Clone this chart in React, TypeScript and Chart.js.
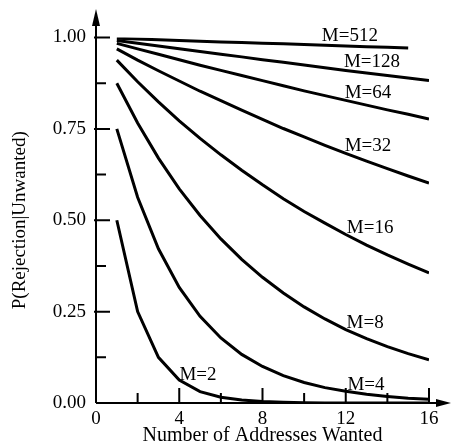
import React, { useEffect, useRef } from "react";
import { Chart, registerables } from "chart.js";

Chart.register(...registerables);

const addresses = [1, 2, 3, 4, 5, 6, 7, 8, 9, 10, 11, 12, 13, 14, 15, 16];

const m2 = [0.5, 0.25, 0.125, 0.063, 0.031, 0.016, 0.008, 0.004, 0.002, 0.001, 0.0, 0.0, 0.0, 0.0, 0.0, 0.0];
const m4 = [0.75, 0.563, 0.422, 0.316, 0.237, 0.178, 0.133, 0.1, 0.075, 0.056, 0.042, 0.032, 0.024, 0.018, 0.013, 0.01];
const m8 = [0.875, 0.766, 0.67, 0.586, 0.513, 0.449, 0.393, 0.344, 0.301, 0.263, 0.23, 0.201, 0.176, 0.154, 0.135, 0.118];
const m16 = [0.938, 0.879, 0.824, 0.772, 0.724, 0.679, 0.637, 0.597, 0.559, 0.524, 0.492, 0.461, 0.432, 0.405, 0.38, 0.356];
const m32 = [0.969, 0.938, 0.909, 0.881, 0.853, 0.827, 0.801, 0.776, 0.751, 0.728, 0.705, 0.683, 0.662, 0.641, 0.621, 0.602];
const m64 = [0.984, 0.969, 0.954, 0.939, 0.924, 0.91, 0.896, 0.882, 0.868, 0.854, 0.841, 0.828, 0.815, 0.802, 0.79, 0.777];
const m128 = [0.992, 0.984, 0.977, 0.969, 0.962, 0.954, 0.947, 0.939, 0.932, 0.925, 0.917, 0.91, 0.903, 0.896, 0.889, 0.882];
const m512 = [0.998, 0.996, 0.994, 0.992, 0.99, 0.988, 0.986, 0.984, 0.983, 0.981, 0.979, 0.977, 0.975, 0.973, 0.971];

const seriesNames = ["M=2", "M=4", "M=8", "M=16", "M=32", "M=64", "M=128", "M=512"];
const seriesValues = [m2, m4, m8, m16, m32, m64, m128, m512];
// label anchor points (data coordinates: addresses, probability)
const labelX = [4.9, 12.97, 12.93, 13.17, 13.07, 13.07, 13.26, 12.2];
const labelY = [0.077, 0.049, 0.219, 0.479, 0.703, 0.848, 0.933, 1.004];

const xMajorTicks = [0, 4, 8, 12, 16];
const xMinorTicks = [2, 6, 10, 14];
const yMajorTicks = [0, 0.25, 0.5, 0.75, 1.0];
const yMinorTicks = [0.125, 0.375, 0.625, 0.875];

const FONT = "'Liberation Serif', 'DejaVu Serif', serif";

const axisPlugin = {
  id: "axisPlugin",
  afterDraw(chart: any) {
    const ctx = chart.ctx;
    const xs = chart.scales.x;
    const ys = chart.scales.y;
    const x0 = xs.getPixelForValue(0);
    const y0 = ys.getPixelForValue(0);
    ctx.save();
    ctx.strokeStyle = "#000";
    ctx.fillStyle = "#000";
    ctx.lineWidth = 2;
    // axes
    ctx.beginPath();
    ctx.moveTo(x0, y0);
    ctx.lineTo(x0, 18);
    ctx.moveTo(x0, y0);
    ctx.lineTo(443, y0);
    ctx.stroke();
    // arrows
    ctx.beginPath();
    ctx.moveTo(x0, 9);
    ctx.lineTo(x0 - 4, 26);
    ctx.lineTo(x0 + 4, 26);
    ctx.closePath();
    ctx.fill();
    ctx.beginPath();
    ctx.moveTo(451, y0);
    ctx.lineTo(436, y0 - 4);
    ctx.lineTo(436, y0 + 4);
    ctx.closePath();
    ctx.fill();
    // ticks
    ctx.beginPath();
    xMajorTicks.forEach((v) => {
      if (v === 0) return;
      const p = xs.getPixelForValue(v);
      ctx.moveTo(p, y0);
      ctx.lineTo(p, y0 - 15);
    });
    xMinorTicks.forEach((v) => {
      const p = xs.getPixelForValue(v);
      ctx.moveTo(p, y0);
      ctx.lineTo(p, y0 - 10);
    });
    yMajorTicks.forEach((v) => {
      if (v === 0) return;
      const p = ys.getPixelForValue(v);
      ctx.moveTo(x0 - 2, p);
      ctx.lineTo(x0 + 14, p);
    });
    yMinorTicks.forEach((v) => {
      const p = ys.getPixelForValue(v);
      ctx.moveTo(x0, p);
      ctx.lineTo(x0 + 10, p);
    });
    ctx.stroke();
    // series labels
    ctx.font = `19px ${FONT}`;
    ctx.textAlign = "center";
    ctx.textBaseline = "middle";
    seriesNames.forEach((name, i) => {
      ctx.fillText(name, xs.getPixelForValue(labelX[i]), ys.getPixelForValue(labelY[i]));
    });
    ctx.restore();
  },
};

export default function App() {
  const ref = useRef<HTMLCanvasElement | null>(null);
  useEffect(() => {
    if (!ref.current) return;
    const chart = new Chart(ref.current, {
      type: "line",
      data: {
        datasets: seriesValues.map((vals, i) => ({
          label: seriesNames[i],
          data: vals.map((v, j) => ({ x: addresses[j], y: v })),
          borderColor: "#000",
          borderWidth: 3,
          pointRadius: 0,
          tension: 0,
          fill: false,
        })),
      },
      options: {
        responsive: false,
        animation: false,
        events: [],
        layout: { padding: { top: 37.5, right: 24, left: 0, bottom: 0 } },
        plugins: { legend: { display: false }, tooltip: { enabled: false } },
        scales: {
          x: {
            type: "linear",
            min: 0,
            max: 16,
            afterFit: (s: any) => {
              s.height = 43;
            },
            afterBuildTicks: (s: any) => {
              s.ticks = xMajorTicks.map((v) => ({ value: v }));
            },
            ticks: { font: { family: FONT, size: 19 }, color: "#000", padding: 5, autoSkip: false, maxRotation: 0 },
            grid: { display: false, drawTicks: false, tickLength: 0 },
            border: { display: false },
            title: {
              display: true,
              text: "Number of Addresses Wanted",
              font: { family: FONT, size: 20, lineHeight: 1 },
              color: "#000",
              padding: { top: 0, bottom: 0 },
            },
          },
          y: {
            type: "linear",
            min: 0,
            max: 1,
            afterFit: (s: any) => {
              s.width = 96;
            },
            afterBuildTicks: (s: any) => {
              s.ticks = yMajorTicks.map((v) => ({ value: v }));
            },
            ticks: {
              font: { family: FONT, size: 19 },
              color: "#000",
              padding: 10,
              autoSkip: false,
              callback: (v: any) => Number(v).toFixed(2),
            },
            grid: { display: false, drawTicks: false, tickLength: 0 },
            border: { display: false },
            title: {
              display: true,
              text: "P(Rejection|Unwanted)",
              font: { family: FONT, size: 19 },
              color: "#000",
              padding: { top: 9, bottom: 0 },
            },
          },
        },
      },
      plugins: [axisPlugin],
    });
    return () => chart.destroy();
  }, []);
  return (
    <div style={{ position: "absolute", left: 0, top: 0, width: 453, height: 446, background: "#fff" }}>
      <canvas ref={ref} width={453} height={446} style={{ width: 453, height: 446 }} />
    </div>
  );
}
